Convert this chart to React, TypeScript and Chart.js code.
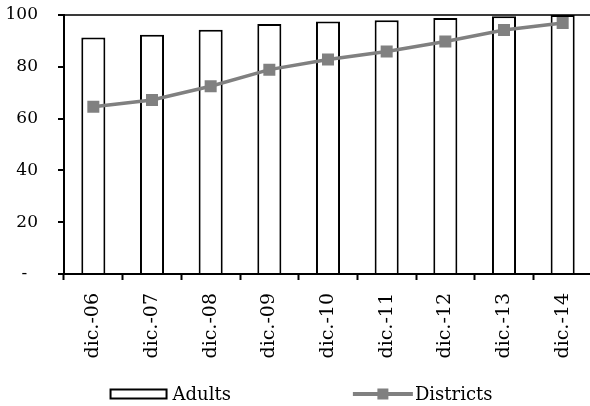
import React, { useEffect, useRef } from 'react';
import { Chart, registerables } from 'chart.js';

Chart.register(...registerables);

const categories = ['dic.-06', 'dic.-07', 'dic.-08', 'dic.-09', 'dic.-10', 'dic.-11', 'dic.-12', 'dic.-13', 'dic.-14'];
const adults = [91.3, 92.4, 94.3, 96.5, 97.5, 98, 98.8, 99.5, 100];
const districts = [64.6, 67.2, 72.5, 78.9, 82.8, 85.9, 89.8, 94.2, 96.9];
const yTickValues = [0, 20, 40, 60, 80, 100];
const yTickLabels = ['-\u00a0\u00a0', '20', '40', '60', '80', '100'];
const seriesNames = ['Adults', 'Districts'];

const FONT = '"DejaVu Serif", serif';
const GRAY = '#808080';

const legendPlugin = {
  id: 'customLegend',
  afterDraw(chart: any) {
    const ctx = chart.ctx as CanvasRenderingContext2D;
    ctx.save();
    ctx.font = `18px ${FONT}`;
    ctx.textBaseline = 'alphabetic';
    const yMid = 394;
    const baseline = 399.5;
    const wA = ctx.measureText(seriesNames[0]).width;
    const wD = ctx.measureText(seriesNames[1]).width;
    const item1 = 58 + 5 + wA;
    const item2 = 60 + 2 + wD;
    const gap = 122;
    let x = chart.width / 2 - (item1 + gap + item2) / 2 - 4;
    // Adults key
    ctx.fillStyle = '#fff';
    ctx.fillRect(x, yMid - 5, 58, 10);
    ctx.lineWidth = 2;
    ctx.strokeStyle = '#000';
    ctx.strokeRect(x + 1, yMid - 4.5, 56, 9);
    ctx.fillStyle = '#000';
    ctx.fillText(seriesNames[0], x + 63, baseline);
    x += item1 + gap;
    // Districts key
    ctx.strokeStyle = GRAY;
    ctx.lineWidth = 4;
    ctx.beginPath();
    ctx.moveTo(x, yMid);
    ctx.lineTo(x + 60, yMid);
    ctx.stroke();
    ctx.fillStyle = GRAY;
    ctx.fillRect(x + 30 - 5.5, yMid - 5.5, 11, 11);
    ctx.fillStyle = '#000';
    ctx.fillText(seriesNames[1], x + 62, baseline);
    ctx.restore();
  },
};

export default function App() {
  const ref = useRef<HTMLCanvasElement | null>(null);

  useEffect(() => {
    if (!ref.current) return;
    const chart = new Chart(ref.current, {
      type: 'bar',
      data: {
        labels: categories,
        datasets: [
          {
            type: 'line',
            label: seriesNames[1],
            data: districts,
            borderColor: GRAY,
            backgroundColor: GRAY,
            borderWidth: 3.5,
            pointStyle: 'rect',
            pointRadius: 8.5,
            pointBorderWidth: 0,
            pointBackgroundColor: GRAY,
            tension: 0,
            order: 0,
          } as any,
          {
            type: 'bar',
            label: seriesNames[0],
            data: adults,
            backgroundColor: '#fff',
            borderColor: '#000',
            borderWidth: 2,
            barPercentage: 0.41,
            categoryPercentage: 1,
            order: 1,
          } as any,
        ],
      },
      options: {
        responsive: false,
        animation: false,
        devicePixelRatio: 1,
        layout: { padding: { left: 0, top: 15, right: 18, bottom: 40 } },
        plugins: {
          legend: { display: false },
          tooltip: { enabled: false },
        },
        scales: {
          x: {
            grid: {
              display: true,
              offset: true,
              drawOnChartArea: false,
              color: 'transparent',
              tickColor: '#000',
              tickLength: 6,
              tickWidth: 2,
            },
            border: { display: true, color: '#000', width: 2 },
            ticks: {
              minRotation: 90,
              maxRotation: 90,
              autoSkip: false,
              padding: 13,
              color: '#000',
              font: { family: FONT, size: 19 },
            },
            afterFit(scale: any) {
              scale.height = 92;
              scale.paddingTop = 0;
              scale.paddingBottom = 0;
              scale.paddingLeft = 0;
              scale.paddingRight = 0;
            },
          },
          y: {
            min: 0,
            max: 100,
            afterBuildTicks(scale: any) {
              scale.ticks = yTickValues.map((v) => ({ value: v }));
            },
            grid: {
              color: (c: any) => (c.tick && c.tick.value === 100 ? '#3a3a3a' : 'transparent'),
              lineWidth: 2,
              tickColor: '#000',
              tickLength: 6,
              tickWidth: 2,
            },
            border: { display: true, color: '#000', width: 2 },
            ticks: {
              padding: 20,
              color: '#000',
              font: { family: FONT, size: 17 },
              callback: (value: any) => {
                const i = yTickValues.indexOf(Number(value));
                return i >= 0 ? yTickLabels[i] : '';
              },
            },
            afterFit(scale: any) {
              scale.width = 64;
              scale.paddingTop = 0;
              scale.paddingBottom = 0;
              scale.paddingLeft = 0;
              scale.paddingRight = 0;
            },
          },
        },
      },
      plugins: [legendPlugin],
    });
    return () => chart.destroy();
  }, []);

  return (
    <div
      style={{
        position: 'fixed',
        left: 0,
        top: 0,
        width: 590,
        height: 406,
        overflow: 'hidden',
        background: '#fff',
      }}
    >
      <canvas ref={ref} width={610} height={406} style={{ display: 'block', width: 610, height: 406 }} />
    </div>
  );
}
